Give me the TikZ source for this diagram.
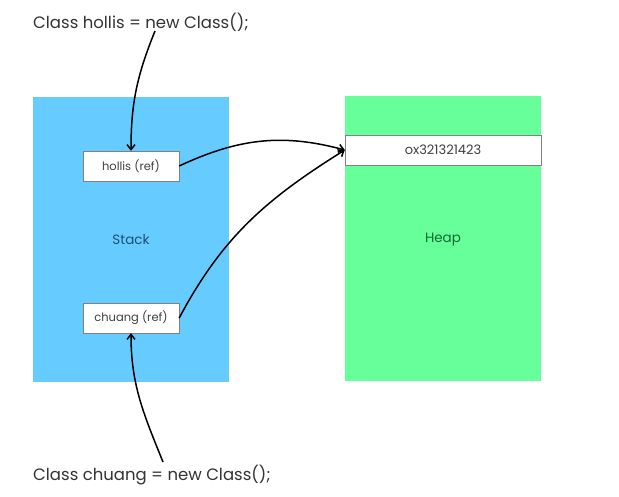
\documentclass[tikz,border=0pt]{standalone}
\usepackage{fontspec}
\setmainfont{Poppins}
\usetikzlibrary{arrows.meta}
\definecolor{stackblue}{HTML}{66CCFF}
\definecolor{heapgreen}{HTML}{66FF99}
\definecolor{stacktext}{HTML}{1F4E79}
\definecolor{heaptext}{HTML}{106B30}
\tikzset{
  area/.style={minimum width=196pt, minimum height=285pt, inner sep=0pt},
  refbox/.style={draw=gray, fill=white, minimum width=96pt, minimum height=30pt, inner sep=0pt, font=\fontsize{11.5}{13}\selectfont, text=black!75},
  code/.style={anchor=west, inner sep=0pt, font=\fontsize{16.5}{19}\selectfont, text=black!80},
  link/.style={line width=1.5pt, -{Straight Barb[length=5pt,width=8pt]}}
}
\begin{document}
\begin{tikzpicture}[x=1pt,y=1pt]
  \useasboundingbox (0,0) rectangle (619,497);
  % memory areas
  \node[area, fill=stackblue] (stack) at (131,257.5) {};
  \node[area, fill=heapgreen] (heap) at (443,258) {};
  \node[text=stacktext, font=\fontsize{13.5}{15}\selectfont] (stacklabel) at (131,257) {Stack};
  \node[text=heaptext, font=\fontsize{13.5}{15}\selectfont] (heaplabel) at (443,257) {Heap};
  % references and object
  \node[refbox] (hollis) at (131,331) {hollis (ref)};
  \node[refbox] (chuang) at (131,179) {chuang (ref)};
  \node[refbox, minimum width=196pt, font=\fontsize{13}{15}\selectfont] (obj) at (443,347) {ox321321423};
  % code lines
  \node[code] (codetop) at (33,475) {Class hollis = new Class();};
  \node[code] (codebot) at (33,22) {Class chuang = new Class();};
  \coordinate (topstart) at (155,466);
  \coordinate (botstart) at (163,35);
  % arrows
  \draw[link] (topstart) to[out=-112, in=90] (hollis.north);
  \draw[link] (botstart) to[out=112, in=-90] (chuang.south);
  \draw[link] (hollis.east) to[out=25, in=165] (obj.west);
  \draw[link] (chuang.east) to[out=62, in=-148] (obj.west);
\end{tikzpicture}
\end{document}
